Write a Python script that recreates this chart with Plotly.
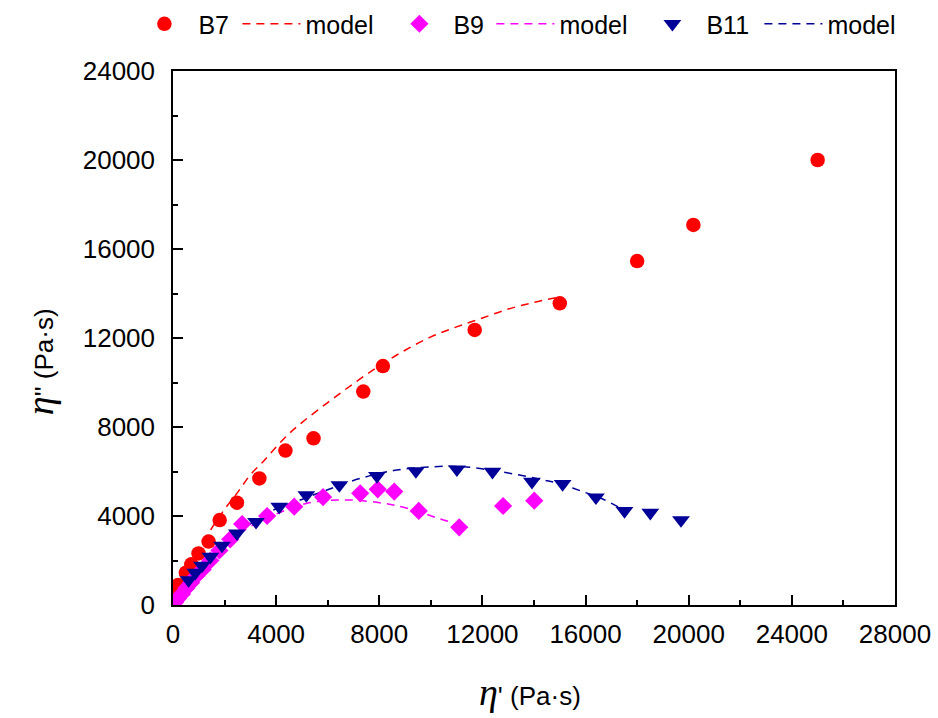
import plotly.graph_objects as go

# ---------------- data ----------------
b7_x = [60, 200, 500, 710, 990, 1380, 1810, 2480, 3350, 4360, 5450, 7380, 8140, 11700, 15000, 18000, 20180, 25000]
b7_y = [500, 900, 1450, 1830, 2320, 2850, 3820, 4600, 5690, 6940, 7490, 9590, 10740, 12360, 13560, 15460, 17080, 20000]

b7_model_x = [0, 500, 1000, 1500, 2000, 2500, 3000, 3500, 4000, 4500, 5000, 6000, 7000, 8000, 9000, 10000, 11000, 12000, 13000, 14000, 15000]
b7_model_y = [0, 1300, 2450, 3450, 4300, 5050, 5850, 6450, 7100, 7700, 8200, 9100, 9950, 10750, 11450, 12050, 12500, 12900, 13300, 13600, 13850]

b9_x = [80, 200, 350, 520, 700, 900, 1150, 1450, 1800, 2220, 2680, 3650, 4700, 5820, 7260, 7940, 8580, 9530, 11100, 12800, 14010]
b9_y = [120, 300, 500, 760, 1000, 1300, 1600, 2000, 2450, 2950, 3640, 4000, 4420, 4850, 5020, 5200, 5100, 4230, 3490, 4450, 4690]

b9_model_x = [0, 500, 1000, 1500, 2000, 2700, 3770, 5200, 6750, 8170, 9080, 10490, 10750]
b9_model_y = [0, 750, 1400, 2000, 2550, 3300, 3970, 4570, 4720, 4570, 4350, 3820, 3740]

b11_x = [605, 865, 1125, 1450, 1900, 2480, 3220, 4120, 5170, 6450, 7910, 9420, 11010, 12390, 13920, 15110, 16400, 17510, 18510, 19700]
b11_y = [1120, 1450, 1770, 2170, 2670, 3220, 3740, 4420, 4940, 5390, 5800, 6020, 6100, 5990, 5540, 5440, 4840, 4230, 4150, 3820]

b11_model_x = [0, 500, 1000, 1500, 2000, 2500, 3000, 3900, 4940, 5970, 7260, 8690, 10110, 10990, 11660, 13210, 14370, 15000, 16000, 16600, 17350]
b11_model_y = [0, 900, 1650, 2250, 2800, 3250, 3650, 4270, 4720, 5170, 5690, 6070, 6216, 6230, 6170, 5890, 5620, 5450, 5050, 4800, 4350]

x_tick_vals = [0, 4000, 8000, 12000, 16000, 20000, 24000, 28000]
y_tick_vals = [0, 4000, 8000, 12000, 16000, 20000, 24000]

RED = "#FF0000"
MAG = "#FF00FF"
NAVY = "#000099"
FONT = "Liberation Sans, Arial"

fig = go.Figure()
dash = "8px,6px"

# lines first (drawn behind markers)
fig.add_trace(go.Scatter(x=b7_model_x, y=b7_model_y, mode="lines", name="model",
                         legendrank=2, legendwidth=75,
                         line=dict(color=RED, width=1.5, dash=dash, shape="spline")))
fig.add_trace(go.Scatter(x=b9_model_x, y=b9_model_y, mode="lines", name="model",
                         legendrank=4, legendwidth=74,
                         line=dict(color=MAG, width=1.5, dash=dash, shape="spline")))
fig.add_trace(go.Scatter(x=b11_model_x, y=b11_model_y, mode="lines", name="model",
                         legendrank=6, legendwidth=75,
                         line=dict(color=NAVY, width=1.5, dash=dash, shape="spline")))
fig.add_trace(go.Scatter(x=b7_x, y=b7_y, mode="markers", name="B7",
                         legendrank=1, legendwidth=34,
                         marker=dict(symbol="circle", size=14.5, color=RED)))
fig.add_trace(go.Scatter(x=b9_x, y=b9_y, mode="markers", name="B9",
                         legendrank=3, legendwidth=33,
                         marker=dict(symbol="diamond", size=14, color=MAG)))
fig.add_trace(go.Scatter(x=b11_x, y=b11_y, mode="markers", name="B11",
                         legendrank=5, legendwidth=48,
                         marker=dict(symbol="triangle-down", size=15.5, color=NAVY)))

axis_common = dict(
    showline=True, linecolor="black", linewidth=1.5, mirror=True,
    ticks="inside", ticklen=10, tickwidth=1.5, tickcolor="black",
    showgrid=False, zeroline=False,
    tickfont=dict(family=FONT, size=26, color="black"),
)

fig.update_xaxes(range=[0, 28000], tickvals=x_tick_vals,
                 ticktext=[str(v) for v in x_tick_vals],
                 minor=dict(ticks="inside", ticklen=5, tickwidth=1.5, tickcolor="black", dtick=2000, showgrid=False),
                 ticklabelstandoff=5, **axis_common)
fig.update_yaxes(range=[0, 24000], tickvals=y_tick_vals,
                 ticktext=[str(v) for v in y_tick_vals],
                 minor=dict(ticks="inside", ticklen=5, tickwidth=1.5, tickcolor="black", dtick=2000, showgrid=False),
                 ticklabelstandoff=11, **axis_common)

eta = '<span style="font-family:Liberation Serif;font-size:38px"><i>η</i></span>'
fig.add_annotation(xref="paper", yref="paper", x=0.495, y=-0.163,
                   text=eta + '<span style="font-size:26px">\' (Pa·s)</span>',
                   showarrow=False, xanchor="center", yanchor="middle",
                   font=dict(family=FONT, size=26, color="black"))
fig.add_annotation(xref="paper", yref="paper", x=-0.184, y=0.455,
                   text=eta + '<span style="font-size:26px">\'\' (Pa·s)</span>',
                   showarrow=False, textangle=-90, xanchor="center", yanchor="middle",
                   font=dict(family=FONT, size=26, color="black"))

fig.update_layout(
    width=938, height=718,
    margin=dict(l=173, r=43, t=71, b=113, autoexpand=False),
    paper_bgcolor="white", plot_bgcolor="white",
    showlegend=True,
    legend=dict(orientation="h", x=-0.059, y=1.088, xanchor="left", yanchor="middle",
                font=dict(family=FONT, size=25, color="black"),
                bgcolor="rgba(0,0,0,0)", itemwidth=58, tracegroupgap=0),
)

fig.write_html("out.html")
